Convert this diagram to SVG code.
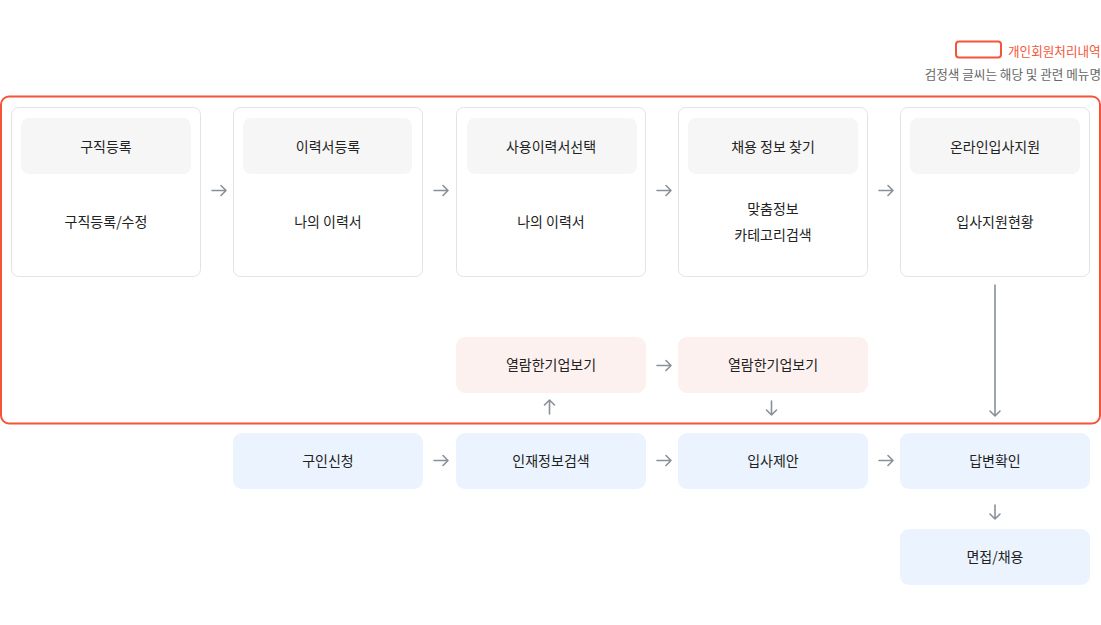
<svg xmlns="http://www.w3.org/2000/svg" width="1101" height="625" viewBox="0 0 1101 625">
<style>
text{font-family:"Noto Sans CJK KR","Noto Sans",sans-serif;fill:#222;font-size:14px;text-anchor:middle;dominant-baseline:central}
.card{fill:#fff;stroke:#e3e3e3;stroke-width:1}
.head{fill:#f6f6f6}
.pink{fill:#fdf1ef}
.blue{fill:#ebf4fe}
.arr{stroke:#8a9099;stroke-width:1.6;fill:none;stroke-linecap:round;stroke-linejoin:round}
.leg{font-size:12.6px;text-anchor:start}
</style>
<rect width="1101" height="625" fill="#fff"/>
<g id="legend">
<rect x="956" y="41.5" width="45" height="16" rx="3" fill="none" stroke="#f4553a" stroke-width="2"/>
<text class="leg" x="1008" y="50" style="fill:#f4553a">개인회원처리내역</text>
<text x="1101" y="73" style="font-size:12.6px;text-anchor:end;fill:#666">검정색 글씨는 해당 및 관련 메뉴명</text>
</g>
<g id="frame">
<rect x="1" y="96.5" width="1099" height="327" rx="8" fill="none" stroke="#f4553a" stroke-width="2"/>
</g>
<g id="n1"><rect class="card" x="11.5" y="107.5" width="189" height="169" rx="7"/><rect class="head" x="21" y="118" width="170" height="56" rx="8"/><text x="106" y="146">구직등록</text><text x="106" y="221">구직등록/수정</text></g>
<g id="n2"><rect class="card" x="233.5" y="107.5" width="189" height="169" rx="7"/><rect class="head" x="243" y="118" width="169" height="56" rx="8"/><text x="328" y="146">이력서등록</text><text x="328" y="221">나의 이력서</text></g>
<g id="n3"><rect class="card" x="456.5" y="107.5" width="189" height="169" rx="7"/><rect class="head" x="467" y="118" width="170" height="56" rx="8"/><text x="551" y="146">사용이력서선택</text><text x="551" y="221">나의 이력서</text></g>
<g id="n4"><rect class="card" x="678.5" y="107.5" width="189" height="169" rx="7"/><rect class="head" x="688" y="118" width="170" height="56" rx="8"/><text x="773" y="146">채용 정보 찾기</text><text x="773" y="208">맞춤정보</text><text x="773" y="234">카테고리검색</text></g>
<g id="n5"><rect class="card" x="900.5" y="107.5" width="189" height="169" rx="7"/><rect class="head" x="910" y="118" width="170" height="56" rx="8"/><text x="995" y="146">온라인입사지원</text><text x="995" y="221">입사지원현황</text></g>
<g id="p1"><rect class="pink" x="456" y="337" width="190" height="56" rx="9"/><text x="551" y="364">열람한기업보기</text></g>
<g id="p2"><rect class="pink" x="678" y="337" width="190" height="56" rx="9"/><text x="773" y="364">열람한기업보기</text></g>
<g id="b1"><rect class="blue" x="233" y="433" width="190" height="56" rx="9"/><text x="328" y="460">구인신청</text></g>
<g id="b2"><rect class="blue" x="456" y="433" width="190" height="56" rx="9"/><text x="551" y="460">인재정보검색</text></g>
<g id="b3"><rect class="blue" x="678" y="433" width="190" height="56" rx="9"/><text x="773" y="460">입사제안</text></g>
<g id="b4"><rect class="blue" x="900" y="433" width="190" height="56" rx="9"/><text x="995" y="460">답변확인</text></g>
<g id="b5"><rect class="blue" x="900" y="529" width="190" height="56" rx="9"/><text x="995" y="556">면접/채용</text></g>
<g id="connectors">
<path class="arr" d="M212 190.5h14M221 185.5l5 5l-5 5"/>
<path class="arr" d="M434 190.5h14M443 185.5l5 5l-5 5"/>
<path class="arr" d="M657 190.5h14M666 185.5l5 5l-5 5"/>
<path class="arr" d="M879 190.5h14M888 185.5l5 5l-5 5"/>
<path class="arr" d="M657 365.5h14M666 360.5l5 5l-5 5"/>
<path class="arr" d="M434 460.5h14M443 455.5l5 5l-5 5"/>
<path class="arr" d="M657 460.5h14M666 455.5l5 5l-5 5"/>
<path class="arr" d="M879 460.5h14M888 455.5l5 5l-5 5"/>
<path class="arr" d="M549.5 414v-14M544.5 405l5-5l5 5"/>
<path class="arr" d="M771.5 401v14M766.5 410l5 5l5-5"/>
<path class="arr" d="M995 285v131M990 411l5 5l5-5"/>
<path class="arr" d="M995 505v14M990 514l5 5l5-5"/>
</g>
</svg>
